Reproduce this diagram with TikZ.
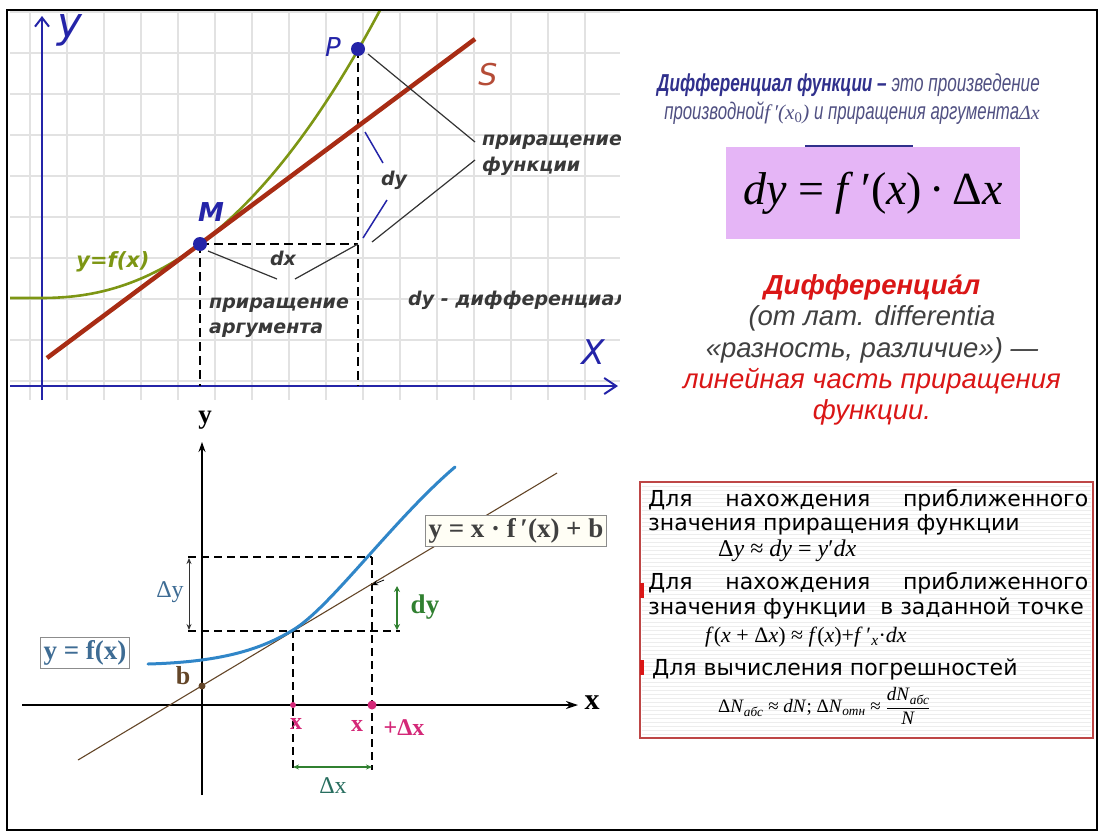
\documentclass[tikz,border=0pt]{standalone}
\usepackage{fontspec}
\setmainfont{DejaVu Sans}
\newfontfamily\arialfnt{Liberation Sans}
\newfontfamily\timesfnt{Liberation Serif}
\newfontfamily\narrowfnt[FakeStretch=0.7]{Liberation Sans}
\usetikzlibrary{arrows.meta}

\definecolor{axisblue}{RGB}{36,36,168}
\definecolor{gridgray}{RGB}{226,226,226}
\definecolor{curvegreen}{RGB}{125,150,20}
\definecolor{secantred}{RGB}{168,44,20}
\definecolor{navyblue}{RGB}{48,48,140}
\definecolor{defgray}{RGB}{80,80,130}
\definecolor{lilac}{RGB}{229,181,246}
\definecolor{hintred}{RGB}{218,22,22}
\definecolor{curveblue}{RGB}{48,134,200}
\definecolor{tangbrown}{RGB}{100,70,40}
\definecolor{labelblue}{RGB}{62,108,148}
\definecolor{dygreen}{RGB}{48,128,48}
\definecolor{dxteal}{RGB}{40,110,95}
\definecolor{xmagenta}{RGB}{212,40,120}
\definecolor{boxred}{RGB}{190,70,70}

\tikzset{
  gridline/.style={gridgray, line width=1.6pt},
  blueaxis/.style={axisblue, line width=2pt},
  guide/.style={black, line width=1.8pt, dash pattern=on 9pt off 5pt},
  leader/.style={black!80, line width=1.2pt},
  dybar/.style={axisblue, line width=1.5pt},
  hint/.style={inner sep=0pt, text=black!78, font=\fontsize{19}{21}\selectfont\bfseries\itshape},
  axis2/.style={black, line width=1.2pt},
  guide2/.style={black, line width=1.6pt, dash pattern=on 8pt off 5pt},
  fbox/.style={draw=black!45, line width=1.2pt, inner sep=3pt, font=\timesfnt\bfseries\fontsize{27}{29}\selectfont},
  seriflab/.style={inner sep=0pt, font=\timesfnt\fontsize{24}{26}\selectfont},
  boxline/.style={inner sep=0pt, anchor=west, font=\fontsize{22}{24}\selectfont},
  mathline/.style={inner sep=0pt, anchor=west, font=\timesfnt\fontsize{22}{24}\selectfont}
}

\begin{document}
\begin{tikzpicture}[x=1pt, y=-1pt]
\useasboundingbox (0,0) rectangle (1105,836);

% top left picture
\begin{scope}
  \clip (10,10) rectangle (620,400);
  \foreach \gx in {30,67,...,622} \draw[gridline] (\gx,10) -- (\gx,400);
  \foreach \gy in {12,53,...,381} \draw[gridline] (10,\gy) -- (620,\gy);
  % axes
  \draw[blueaxis, -{Straight Barb[length=9pt, width=14pt]}] (42,400) -- (42,16);
  \draw[blueaxis, -{Straight Barb[length=12pt, width=16pt]}] (10,386) -- (618,386);
  \node[inner sep=0pt, text=axisblue, font=\fontsize{42}{42}\selectfont\itshape] (ylab) at (70,30) {y};
  \node[inner sep=0pt, text=axisblue, font=\fontsize{34}{34}\selectfont\itshape] (xlab) at (593,352) {X};
  % points
  \coordinate (M) at (200,244);
  \coordinate (P) at (358,49);
  \coordinate (Q) at (358,244);
  \coordinate (MX) at (200,386);
  \coordinate (PX) at (358,386);
  % dashed guides
  \draw[guide] (M) -- (MX);
  \draw[guide] (P) -- (PX);
  \draw[guide] (M) -- (Q);
  % curve and secant
  \draw[curvegreen, line width=2.6pt] (10,298) -- (40.5,298)
    -- plot[domain=0.5:345, samples=70] ({40+\x}, {298-54*(\x/160)^2.22});
  \draw[secantred, line width=4.5pt] (47,358) -- (475,39);
  \fill[axisblue] (M) circle (7pt);
  \fill[axisblue] (P) circle (7pt);
  \node[inner sep=0pt, text=axisblue, font=\fontsize{26}{26}\selectfont\itshape] (Plab) at (333,47) {P};
  \node[inner sep=0pt, text=axisblue, font=\fontsize{26}{26}\selectfont\bfseries\itshape] (Mlab) at (211,212) {M};
  \node[inner sep=0pt, text=secantred!85, font=\fontsize{30}{30}\selectfont\itshape] (Slab) at (488,75) {S};
  \node[inner sep=0pt, text=curvegreen, font=\fontsize{21}{21}\selectfont\bfseries\itshape] (flab) at (113,262) {y=f(x)};
  % increments
  \node[hint] (dxlab) at (283,258) {dx};
  \node[hint] (dylab) at (394,180) {dy};
  \draw[dybar] (365,132) -- (383,163);
  \draw[dybar] (387,200) -- (363,238);
  \coordinate (fun1) at (475,142);
  \coordinate (fun2) at (475,160);
  \coordinate (arg1) at (277,279);
  \coordinate (arg2) at (295,279);
  \draw[leader] ([shift={(10,5)}]P) -- (fun1);
  \draw[leader] ([shift={(14,-2)}]Q) -- (fun2);
  \draw[leader] ([shift={(8,7)}]M) -- (arg1);
  \draw[leader] (Q) -- (arg2);
  \node[hint, anchor=west] (funA) at (482,142) {приращение};
  \node[hint, anchor=west] (funB) at (482,166) {функции};
  \node[hint, anchor=west] (argA) at (209,305) {приращение};
  \node[hint, anchor=west] (argB) at (209,330) {аргумента};
  \node[hint, anchor=west] (difA) at (408,300) {dy - дифференциал};
\end{scope}

% definition
\node[inner sep=0pt, anchor=east, font=\narrowfnt\fontsize{24.5}{27}\selectfont\itshape] (defA) at (1040,85)
  {{\bfseries\color{navyblue}Дифференциал функции –} {\color{defgray}это произведение}};
\node[inner sep=0pt, anchor=east, text=defgray, font=\narrowfnt\fontsize{24}{27}\selectfont\itshape] (defB) at (1040,113)
  {производной{\timesfnt\itshape\fontsize{21}{22}\selectfont f\,′(x\textsubscript{\upshape 0})} и приращения аргумента{\timesfnt\fontsize{20}{22}\selectfont Δ\textit{x}}};
\draw[navyblue, line width=1.5pt] (805,146) -- (913,146);
\node[fill=lilac, minimum width=294pt, minimum height=92pt, inner sep=0pt,
  font=\timesfnt\fontsize{46}{48}\selectfont] (formula) at (873,193)
  {\textit{dy} = \textit{f}\,′(\textit{x})\,·\,Δ\textit{x}};

% meaning of the word
\node[inner sep=0pt, align=center, text=black!75, font=\arialfnt\fontsize{27.5}{31.3}\selectfont\itshape] (word) at (872,350)
  {{\color{hintred}\bfseries Дифференциа́л}\\
   (от лат. differentia\\
   «разность, различие») —\\
   {\color{hintred}линейная часть приращения}\\
   {\color{hintred}функции.}};

% bottom left picture
\coordinate (B) at (202,686);
\coordinate (K) at (293,630);
\coordinate (L) at (372,557);
\coordinate (N) at (372,585);
\draw[axis2, -{Stealth[length=10pt, width=7pt]}] (202,795) -- (202,442);
\draw[axis2, -{Stealth[length=12pt, width=8pt]}] (22,705) -- (578,705);
\node[seriflab, font=\timesfnt\bfseries\fontsize{27}{27}\selectfont] (ylab2) at (205,420) {y};
\node[seriflab, font=\timesfnt\bfseries\fontsize{30}{30}\selectfont] (xlab2) at (592,703) {x};
% dashed guides
\draw[guide2] (188,557) -- (L);
\draw[guide2] (188,631) -- (400,631);
\draw[guide2] (K) -- (293,770);
\draw[guide2] (L) -- (372,770);
% tangent and curve
\draw[tangbrown, line width=1.1pt] (78,760) -- (557,473);
\draw[curveblue, line width=3pt, line cap=round] (148,664)
  .. controls (220,662) and (260,650) .. (K)
  .. controls (330,608) and (393,520) .. (455,467);
\node[fbox, fill=white, text=labelblue] (fxbox) at (85,653) {y = f(x)};
\node[fbox, fill=yellow!4, text=black!75] (tanbox) at (516,531) {y = x · f\,′(x) + b};
\fill[tangbrown] (B) circle (3.5pt);
\node[seriflab, font=\timesfnt\bfseries\fontsize{26}{26}\selectfont, text=tangbrown] (blab) at (183,676) {b};
% increments
\draw[black!80, line width=0.9pt, {Stealth[length=6pt, width=5pt]}-{Stealth[length=6pt, width=5pt]}] (189,558) -- (189,630);
\node[seriflab, text=labelblue] (Dylab) at (170,592) {Δy};
\draw[dygreen, line width=1.5pt, {Stealth[length=6pt, width=6pt]}-{Stealth[length=6pt, width=6pt]}] (397,586) -- (397,630);
\node[seriflab, font=\timesfnt\bfseries\fontsize{27}{27}\selectfont, text=dygreen] (dylab2) at (425,607) {dy};
\draw[black, line width=0.8pt, -{Stealth[length=6pt, width=5pt]}] (384,580) -- (N);
\draw[dygreen, line width=1.2pt, {Stealth[length=6pt, width=5pt]}-{Stealth[length=6pt, width=5pt]}] (293,767) -- (372,767);
\node[seriflab, text=dxteal] (Dxlab) at (333,786) {Δx};
\fill[xmagenta] (293,705) circle (3pt);
\fill[xmagenta] (372,705) circle (4.5pt);
\node[seriflab, font=\timesfnt\bfseries\fontsize{24}{24}\selectfont, text=xmagenta] (xa) at (296,724) {x};
\node[seriflab, font=\timesfnt\bfseries\fontsize{24}{24}\selectfont, text=xmagenta] (xb) at (357,726) {x};
\node[seriflab, font=\timesfnt\bfseries\fontsize{24}{24}\selectfont, text=xmagenta] (xc) at (404,728) {+Δx};

% bottom right box
\fill[white] (640,482) rectangle (1093,738);
\foreach \yy in {486,490,...,734} \draw[black!7, line width=0.6pt] (642,\yy) -- (1091,\yy);
\draw[boxred, line width=1.2pt] (640,482) rectangle (1093,738);
\fill[hintred] (640,583) rectangle (644,598);
\fill[hintred] (640,660) rectangle (644,675);
\node[boxline] (use1) at (648,500) {\hbox to 440pt{Для\hfill нахождения\hfill приближенного}};
\node[boxline] (use2) at (648,525) {значения приращения функции};
\node[mathline, font=\timesfnt\fontsize{24}{26}\selectfont] (use3) at (718,551) {Δ\textit{y} ≈ \textit{dy} = \textit{y}′\textit{dx}};
\node[boxline] (use4) at (648,583) {\hbox to 440pt{Для\hfill нахождения\hfill приближенного}};
\node[boxline] (use5) at (648,608) {значения функции\ \ в заданной точке};
\node[mathline] (use6) at (705,637) {\textit{f}(\textit{x} + Δ\textit{x}) ≈ \textit{f}(\textit{x})+\textit{f}\,′\textsubscript{\textit{x}}·\textit{dx}};
\node[boxline] (use7) at (652,669) {Для вычисления погрешностей};
\node[mathline, font=\timesfnt\fontsize{19}{21}\selectfont] (use8) at (718,706)
  {Δ\textit{N}\textsubscript{\textit{абс}} ≈ \textit{dN}; Δ\textit{N}\textsubscript{\textit{отн}} ≈ $\displaystyle\frac{\hbox{\textit{dN}\textsubscript{\textit{абс}}}}{\hbox{\textit{N}}}$};

% frame
\draw[black, line width=1.5pt] (7,10) rectangle (1097,830);
\end{tikzpicture}
\end{document}
